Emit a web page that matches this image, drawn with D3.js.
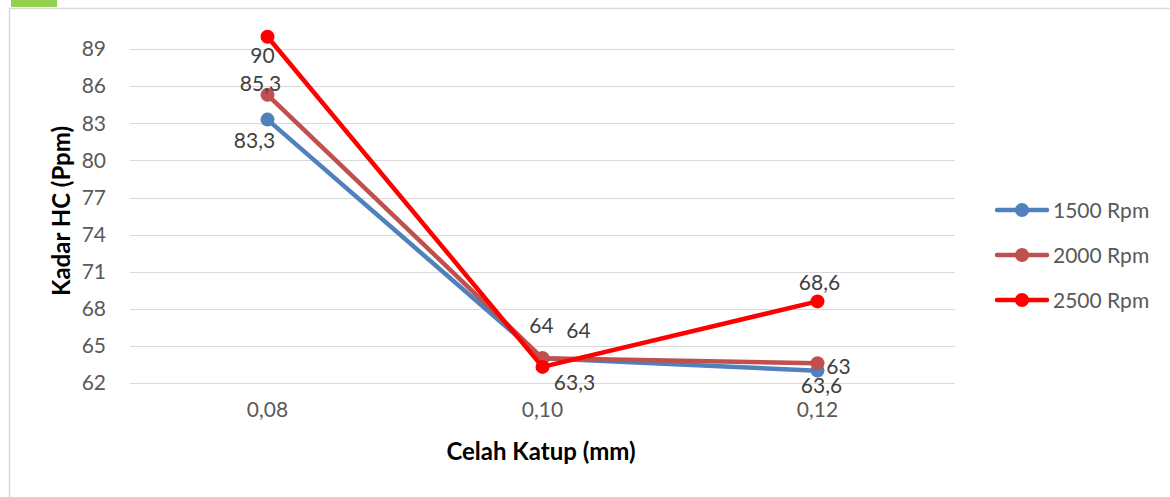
<!DOCTYPE html>
<html>
<head>
<meta charset="utf-8">
<script src="https://cdn.jsdelivr.net/npm/d3@7"></script>
<style>
  html, body { margin: 0; padding: 0; background: #fff; }
  svg { display: block; font-family: Lato, "Open Sans", sans-serif; }
</style>
</head>
<body>
<svg id="chart" width="1170" height="497"></svg>
<script>
// Celah katup (valve clearance) categories and HC readings per engine speed
const categories = ["0,08", "0,10", "0,12"];
const seriesNames = ["1500 Rpm", "2000 Rpm", "2500 Rpm"];
const rpm1500 = [83.3, 64, 63];
const rpm2000 = [85.3, 64, 63.6];
const rpm2500 = [90, 63.3, 68.6];
const yTicks = [62, 65, 68, 71, 74, 77, 80, 83, 86, 89];

const colors = ["#4F81BD", "#C0504D", "#FF0000"];
const values = [rpm1500, rpm2000, rpm2500];
const fmt = v => String(v).replace(".", ",");

// value-label nudges (dx, baseline dy) relative to each point, per series
const labelNudge = [
  [[-13, 28], [-1, -25], [21, 3]],
  [[-7, -4], [36, -20], [4, 30]],
  [[-5, 26], [32, 23], [2, -11]]
];

const svg = d3.select("#chart");

// frame
svg.append("rect").attr("x", 11).attr("y", 0).attr("width", 46).attr("height", 7).attr("fill", "#92D050");
svg.append("path").attr("d", "M9.5,497 V8.5 H1170").attr("fill", "none").attr("stroke", "#d9d9d9").attr("stroke-width", 1.5);

const plot = { left: 130, right: 955, top: 12, bottom: 383 };

const x = d3.scaleBand().domain(categories).range([plot.left, plot.right]);
const y = d3.scaleLinear().domain([62, 92]).range([plot.bottom, plot.top]);

// gridlines
svg.append("g")
  .selectAll("line").data(yTicks).join("line")
  .attr("x1", plot.left).attr("x2", plot.right)
  .attr("y1", d => Math.round(y(d)) + 0.5).attr("y2", d => Math.round(y(d)) + 0.5)
  .attr("stroke", "#d9d9d9").attr("stroke-width", 1);

// y axis labels
const yAxis = svg.append("g").attr("transform", `translate(${plot.left},0)`)
  .call(d3.axisLeft(y).tickValues(yTicks).tickSize(0).tickPadding(24));
yAxis.select(".domain").remove();
yAxis.selectAll("text").attr("font-size", 21).attr("fill", "#595959").attr("font-family", "Lato, sans-serif");

// x axis labels
const xAxis = svg.append("g").attr("transform", `translate(0,${plot.bottom})`)
  .call(d3.axisBottom(x).tickSize(0).tickPadding(19));
xAxis.select(".domain").remove();
xAxis.selectAll("text").attr("font-size", 21).attr("fill", "#595959").attr("font-family", "Lato, sans-serif");

// axis titles
svg.append("text").attr("x", 541).attr("y", 460).attr("text-anchor", "middle")
  .attr("font-size", 24).attr("font-weight", "bold").attr("fill", "#000").text("Celah Katup (mm)");
svg.append("text").attr("transform", "translate(70,211) rotate(-90)").attr("text-anchor", "middle")
  .attr("font-size", 24).attr("font-weight", "bold").attr("fill", "#000").text("Kadar HC (Ppm)");

const cx = c => x(c) + x.bandwidth() / 2;
const line = d3.line().x((d, i) => cx(categories[i])).y(d => y(d));

// series lines and markers
values.forEach((vals, s) => {
  const g = svg.append("g");
  g.append("path").datum(vals).attr("d", line)
    .attr("fill", "none").attr("stroke", colors[s]).attr("stroke-width", 4.5).attr("stroke-linejoin", "round");
  g.selectAll("circle").data(vals).join("circle")
    .attr("cx", (d, i) => cx(categories[i])).attr("cy", d => y(d)).attr("r", 7)
    .attr("fill", colors[s]);
});

// value labels
values.forEach((vals, s) => {
  vals.forEach((v, i) => {
    const o = labelNudge[s][i];
    svg.append("text")
      .attr("x", cx(categories[i]) + o[0]).attr("y", y(v) + o[1])
      .attr("text-anchor", "middle").attr("font-size", 21).attr("fill", "#404040")
      .text(fmt(v));
  });
});

// legend
const legend = svg.append("g");
seriesNames.forEach((name, s) => {
  const ly = 210 + s * 45;
  legend.append("line").attr("x1", 997).attr("x2", 1047).attr("y1", ly).attr("y2", ly)
    .attr("stroke", colors[s]).attr("stroke-width", 4.5).attr("stroke-linecap", "round");
  legend.append("circle").attr("cx", 1022).attr("cy", ly).attr("r", 7).attr("fill", colors[s]);
  legend.append("text").attr("x", 1053).attr("y", ly + 7.5).attr("font-size", 21).attr("fill", "#595959").text(name);
});
</script>
</body>
</html>
